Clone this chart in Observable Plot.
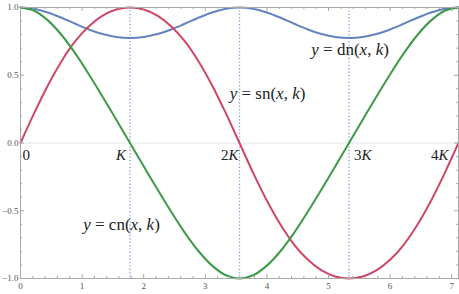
<!DOCTYPE html>
<html><head><meta charset="utf-8">
<script src="https://cdn.jsdelivr.net/npm/d3@7"></script>
<script src="https://cdn.jsdelivr.net/npm/@observablehq/plot@0.6"></script>
<style>html,body{margin:0;padding:0;background:#fff;}</style>
</head><body><div id="chart"></div>
<script>
// sample positions (x) and read values of the three Jacobi elliptic functions
const xs = [0, 0.222, 0.444, 0.667, 0.889, 1.111, 1.333, 1.555, 1.778, 2.000, 2.222, 2.444, 2.666, 2.888, 3.111, 3.333, 3.555, 3.777, 3.999, 4.222, 4.444, 4.666, 4.888, 5.110, 5.333, 5.555, 5.777, 5.999, 6.221, 6.443, 6.666, 6.888, 7.110];
const snVals = [0, 0.220, 0.425, 0.604, 0.751, 0.862, 0.940, 0.985, 1, 0.985, 0.940, 0.862, 0.751, 0.604, 0.425, 0.220, 0, -0.220, -0.425, -0.604, -0.751, -0.862, -0.940, -0.985, -1, -0.985, -0.940, -0.862, -0.751, -0.604, -0.425, -0.220, 0];
const cnVals = [1, 0.976, 0.905, 0.797, 0.661, 0.506, 0.342, 0.172, 0, -0.172, -0.342, -0.506, -0.661, -0.797, -0.905, -0.976, -1, -0.976, -0.905, -0.797, -0.661, -0.506, -0.342, -0.172, 0, 0.172, 0.342, 0.506, 0.661, 0.797, 0.905, 0.976, 1];
const dnVals = [1, 0.990, 0.963, 0.924, 0.880, 0.838, 0.804, 0.782, 0.775, 0.782, 0.804, 0.838, 0.880, 0.924, 0.963, 0.990, 1, 0.990, 0.963, 0.924, 0.880, 0.838, 0.804, 0.782, 0.775, 0.782, 0.804, 0.838, 0.880, 0.924, 0.963, 0.990, 1];
const quarterPeriods = [0, 1.778, 3.555, 5.333, 7.110];
const quarterLabels = ["0", "K", "2K", "3K", "4K"];
const xTickValues = [0, 1, 2, 3, 4, 5, 6, 7];
const yTickValues = [-1, -0.5, 0, 0.5, 1];
const yTickLabels = ["\u22121.0", "\u22120.5", "0.0", "0.5", "1.0"];
const curveLabels = [
  {name: "sn", text: "y = sn(x, k)", x: 4.01, y: 0.365},
  {name: "cn", text: "y = cn(x, k)", x: 1.64, y: -0.60},
  {name: "dn", text: "y = dn(x, k)", x: 5.35, y: 0.69}
];

const colors = {sn: "#cf4766", cn: "#3c9a48", dn: "#6383bf"};
const XMAX = 7.110;
const rows = name => xs.map((x, i) => ({x, y: ({sn: snVals, cn: cnVals, dn: dnVals})[name][i]}));

const xMinor = d3.range(0, 7.11, 0.2).map(v => +v.toFixed(2)).filter(v => Math.abs(v - Math.round(v)) > 1e-6);
const yMinor = d3.range(-1, 1.0001, 0.1).map(v => +v.toFixed(2)).filter(v => Math.abs(v*2 - Math.round(v*2)) > 1e-6);

const pxX = 61.6, pxY = 135.5;
const majX = 4 / pxY, minX = 2 / pxY, majY = 4 / pxX, minY = 2 / pxX;
const frameColor = "#a8a8a8";

const plot = Plot.plot({
  width: 459, height: 294,
  marginLeft: 20, marginRight: 1, marginTop: 7, marginBottom: 16,
  x: {domain: [0, XMAX], axis: null},
  y: {domain: [-1, 1], axis: null},
  style: {fontFamily: "'Liberation Serif', serif", background: "#fff"},
  marks: [
    Plot.ruleY([0], {stroke: "#e6e6e6", strokeWidth: 1}),
    Plot.ruleX(quarterPeriods.slice(1, 4), {stroke: "#7f9ad6", strokeWidth: 1.3, strokeDasharray: "1.2,2.2"}),
    Plot.line(rows("dn"), {x: "x", y: "y", stroke: colors.dn, strokeWidth: 2, curve: "catmull-rom"}),
    Plot.line(rows("sn"), {x: "x", y: "y", stroke: colors.sn, strokeWidth: 2, curve: "catmull-rom"}),
    Plot.line(rows("cn"), {x: "x", y: "y", stroke: colors.cn, strokeWidth: 2, curve: "catmull-rom"}),
    Plot.frame({stroke: frameColor, strokeWidth: 1}),
    // bottom & top ticks
    Plot.ruleX(xTickValues, {y1: -1, y2: -1 + majX, stroke: frameColor}),
    Plot.ruleX(xMinor, {y1: -1, y2: -1 + minX, stroke: frameColor}),
    Plot.ruleX(xTickValues, {y1: 1, y2: 1 - majX, stroke: frameColor}),
    Plot.ruleX(xMinor, {y1: 1, y2: 1 - minX, stroke: frameColor}),
    // left & right ticks
    Plot.ruleY(yTickValues, {x1: 0, x2: majY, stroke: frameColor}),
    Plot.ruleY(yMinor, {x1: 0, x2: minY, stroke: frameColor}),
    Plot.ruleY(yTickValues, {x1: XMAX, x2: XMAX - majY, stroke: frameColor}),
    Plot.ruleY(yMinor, {x1: XMAX, x2: XMAX - minY, stroke: frameColor}),
    // tick labels
    Plot.text(xTickValues, {x: d => d, y: -1, text: d => String(d), dy: 8, fontSize: 9, fill: "#555"}),
    Plot.text(yTickValues, {x: 0, y: d => d, text: (d, i) => yTickLabels[i], dx: -2, textAnchor: "end", fontSize: 9, fill: "#555"}),
    // quarter period labels
    Plot.text([0], {x: d => quarterPeriods[d], y: 0, text: d => quarterLabels[d], dx: 2, dy: 12, textAnchor: "start", fontSize: 15, fill: "#222"}),
    Plot.text([1], {x: d => quarterPeriods[d], y: 0, text: d => quarterLabels[d], dx: -4, dy: 12, textAnchor: "end", fontSize: 15, fill: "#222"}),
    Plot.text([2], {x: d => quarterPeriods[d], y: 0, text: d => quarterLabels[d], dx: -1, dy: 12, textAnchor: "end", fontSize: 15, fill: "#222"}),
    Plot.text([3], {x: d => quarterPeriods[d], y: 0, text: d => quarterLabels[d], dx: 5, dy: 12, textAnchor: "start", fontSize: 15, fill: "#222"}),
    Plot.text([4], {x: d => quarterPeriods[d], y: 0, text: d => quarterLabels[d], dx: -10, dy: 12, textAnchor: "end", fontSize: 15, fill: "#222"}),
    // curve labels
    Plot.text(curveLabels, {x: "x", y: "y", text: "text", fontSize: 17, fill: "#222"})
  ]
});

// math styling: italic single-letter variables
d3.select(plot).selectAll("text").each(function() {
  const el = d3.select(this);
  const t = el.text();
  if (!/[xykK]/.test(t) || /^[\d.\u2212]+$/.test(t)) return;
  el.text(null);
  const parts = t.match(/[xykK]|[^xykK]+/g);
  for (const p of parts) {
    const ts = el.append("tspan").text(p);
    if (/^[xykK]$/.test(p)) ts.attr("font-style", "italic");
  }
});

document.getElementById("chart").appendChild(plot);
</script>
</body></html>
